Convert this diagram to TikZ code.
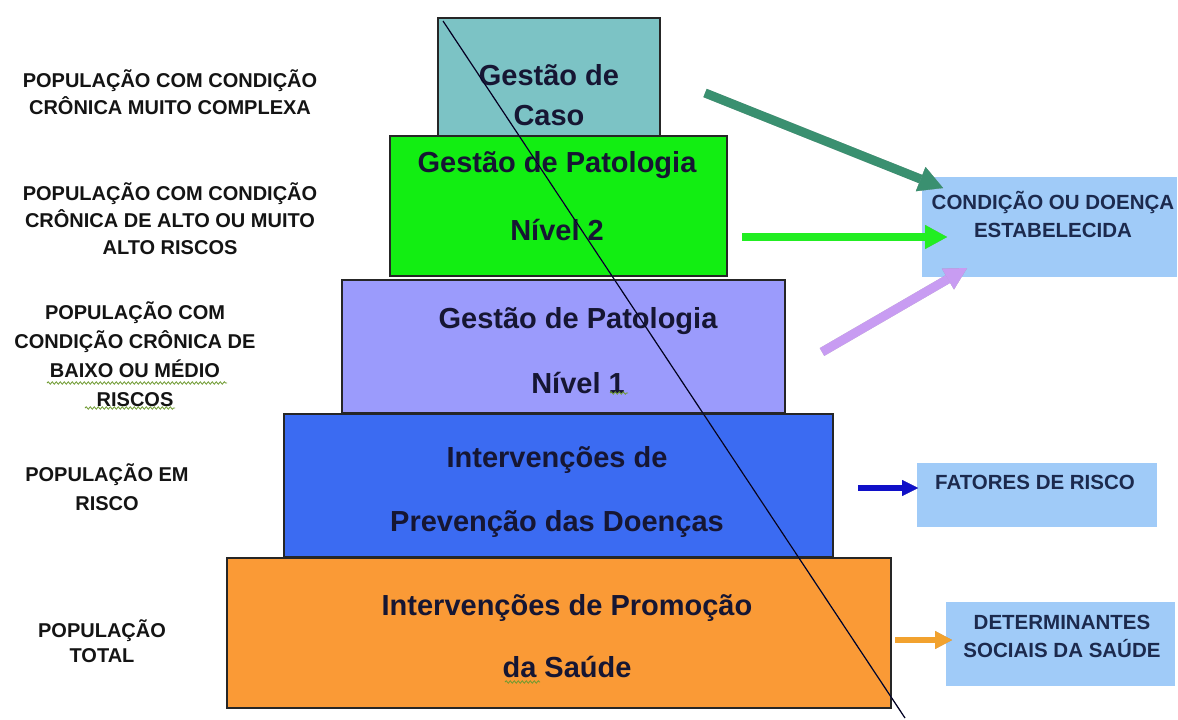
\documentclass[tikz,border=0pt]{standalone}
\usepackage{fontspec}
\setmainfont{Liberation Sans}
\usetikzlibrary{arrows.meta,decorations.pathmorphing}
\definecolor{cteal}{HTML}{7CC3C5}
\definecolor{cgreen}{HTML}{12EE12}
\definecolor{clav}{HTML}{9B9BFC}
\definecolor{cblue}{HTML}{3B6BF2}
\definecolor{corange}{HTML}{FA9A36}
\definecolor{rbox}{HTML}{A0CBF8}
\definecolor{txtdark}{HTML}{161633}
\definecolor{rtxt}{HTML}{1C2A4E}
\definecolor{adkgreen}{HTML}{3A9070}
\definecolor{agreen}{HTML}{22EE22}
\definecolor{alav}{HTML}{C89CF2}
\definecolor{ablue}{HTML}{1010C8}
\definecolor{aorange}{HTML}{F2A22E}
\definecolor{squig}{HTML}{6E9A30}
\begin{document}
\begin{tikzpicture}[x=1pt,y=-1pt,
  tier/.style={draw=black!85, line width=1.3pt, inner sep=0pt, outer sep=0pt},
  rightbox/.style={fill=rbox, inner sep=0pt, outer sep=0pt},
  lbl/.style={font=\bfseries\fontsize{20}{27}\selectfont, align=center, text=black!92, inner sep=0pt},
  boxtxt/.style={font=\bfseries\fontsize{29}{64}\selectfont, align=center, text=txtdark, inner sep=0pt},
  rtext/.style={font=\bfseries\fontsize{20.5}{28}\selectfont, align=center, text=rtxt, inner sep=0pt},
  arr/.style={line cap=butt},
  shadowarr/.style={draw=black!45, opacity=0.6},
  spell/.style={draw=squig, line width=0.8pt, decorate, decoration={snake, segment length=4pt, amplitude=1.2pt}}
]
\useasboundingbox (0,0) rectangle (1178,720);
\fill[white] (0,0) rectangle (1178,720);

% pyramid tiers
\node[tier, fill=cteal, minimum width=222pt, minimum height=118pt] (caso) at (549,77) {};
\node[tier, fill=cgreen, minimum width=337pt, minimum height=140pt] (niv2) at (558.5,206) {};
\node[tier, fill=clav, minimum width=443pt, minimum height=133pt] (niv1) at (563.5,346.5) {};
\node[tier, fill=cblue, minimum width=549pt, minimum height=143pt] (prev) at (558.5,485.5) {};
\node[tier, fill=corange, minimum width=664pt, minimum height=150pt] (prom) at (559,633) {};

% tier texts
\node[boxtxt, font=\bfseries\fontsize{29}{40}\selectfont] (tcaso) at (549,95) {Gestão de\\Caso};
\node[boxtxt, font=\bfseries\fontsize{29}{68}\selectfont] (tniv2) at (557,196) {Gestão de Patologia\\Nível 2};
\node[boxtxt, font=\bfseries\fontsize{29}{65}\selectfont] (tniv1) at (578,351) {Gestão de Patologia\\Nível 1};
\node[boxtxt, font=\bfseries\fontsize{29}{64}\selectfont] (tprev) at (557,492) {Intervenções de\\Prevenção das Doenças};
\node[boxtxt, font=\bfseries\fontsize{29}{62}\selectfont] (tprom) at (567,636) {Intervenções de Promoção\\da Saúde};

% left labels
\node[lbl] (l1) at (170,92) {POPULAÇÃO COM CONDIÇÃO\\CRÔNICA MUITO COMPLEXA};
\node[lbl] (l2) at (170,219) {POPULAÇÃO COM CONDIÇÃO\\CRÔNICA DE ALTO OU MUITO\\ALTO RISCOS};
\node[lbl, font=\bfseries\fontsize{20}{29}\selectfont] (l3) at (135,354) {POPULAÇÃO COM\\CONDIÇÃO CRÔNICA DE\\BAIXO OU MÉDIO\\RISCOS};
\node[lbl, font=\bfseries\fontsize{20}{29}\selectfont] (l4) at (107,487) {POPULAÇÃO EM\\RISCO};
\node[lbl, font=\bfseries\fontsize{20}{25}\selectfont] (l5) at (102,641) {POPULAÇÃO\\TOTAL};

% right boxes
\node[rightbox, minimum width=255pt, minimum height=100pt] (cond) at (1049.5,227) {};
\node[rtext] (tcond) at (1053,214) {CONDIÇÃO OU DOENÇA\\ESTABELECIDA};
\node[rightbox, minimum width=240pt, minimum height=64pt] (fat) at (1037,495) {};
\node[rtext] (tfat) at (1035,482) {FATORES DE RISCO};
\node[rightbox, minimum width=229pt, minimum height=84pt] (det) at (1060.5,644) {};
\node[rtext] (tdet) at (1062,636) {DETERMINANTES\\SOCIAIS DA SAÚDE};

% arrow end points
\coordinate (a1s) at (705,93);  \coordinate (a1e) at (943,188);
\coordinate (a2s) at (742,237); \coordinate (a2e) at (947,237);
\coordinate (a3s) at (822,352); \coordinate (a3e) at (967,268);
\coordinate (a4s) at (858,488); \coordinate (a4e) at (918,488);
\coordinate (a5s) at (895,640); \coordinate (a5e) at (952,640);

% shadows
\begin{scope}[shift={(2,3)}]
\draw[shadowarr, line width=9pt, -{Triangle[length=24pt,width=26pt,line width=0.1pt]}] (a1s) -- (a1e);
\draw[shadowarr, line width=8pt, -{Triangle[length=22pt,width=24pt,line width=0.1pt]}] (a2s) -- (a2e);
\draw[shadowarr, line width=9pt, -{Triangle[length=22pt,width=24pt,line width=0.1pt]}] (a3s) -- (a3e);
\draw[shadowarr, line width=6pt, -{Triangle[length=16pt,width=16pt,line width=0.1pt]}] (a4s) -- (a4e);
\draw[shadowarr, line width=6.5pt, -{Triangle[length=17pt,width=18pt,line width=0.1pt]}] (a5s) -- (a5e);
\end{scope}

% arrows
\draw[arr, draw=adkgreen, fill=adkgreen, line width=9pt, -{Triangle[length=24pt,width=26pt,line width=0.1pt]}] (a1s) -- (a1e);
\draw[arr, draw=agreen, fill=agreen, line width=8pt, -{Triangle[length=22pt,width=24pt,line width=0.1pt]}] (a2s) -- (a2e);
\draw[arr, draw=alav, fill=alav, line width=9pt, -{Triangle[length=22pt,width=24pt,line width=0.1pt]}] (a3s) -- (a3e);
\draw[arr, draw=ablue, fill=ablue, line width=6pt, -{Triangle[length=16pt,width=16pt,line width=0.1pt]}] (a4s) -- (a4e);
\draw[arr, draw=aorange, fill=aorange, line width=6.5pt, -{Triangle[length=17pt,width=18pt,line width=0.1pt]}] (a5s) -- (a5e);

% spell-check squiggles
\draw[spell] (47,383) -- (227,383);
\draw[spell] (85,408) -- (175,408);
\draw[spell] (610,393) -- (628,393);
\draw[spell] (505,682) -- (540,682);

% diagonal line
\coordinate (d1) at (443,21);
\coordinate (d2) at (905,718);
\draw[black!35, line width=0.8pt, shift={(3,0)}] (d1) -- (d2);
\draw[black!80!blue!70!black, line width=1.2pt] (d1) -- (d2);
\end{tikzpicture}
\end{document}
